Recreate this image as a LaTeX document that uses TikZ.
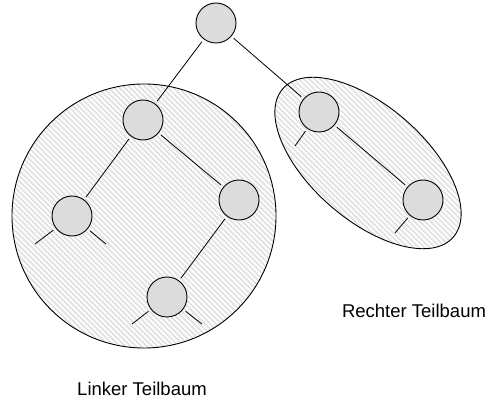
\documentclass[tikz,border=0pt]{standalone}
\usepackage{fontspec}
\setmainfont{Liberation Sans}
\usepackage{tikz}
\usetikzlibrary{shapes.geometric,patterns.meta}
\usepackage{xcolor}
\definecolor{knotengray}{RGB}{220,220,220}
\definecolor{hatchgray}{RGB}{226,226,226}
\tikzstyle{knoten} = [circle, minimum size=40pt, inner sep=0pt, draw=black, fill=knotengray, line width=0.9pt]
\tikzstyle{kante} = [line width=0.8pt, shorten <=3pt, shorten >=3pt]
\tikzstyle{stummel} = [line width=0.8pt, shorten <=3pt]
\tikzstyle{teilbaum} = [draw=black, line width=0.9pt, inner sep=0pt, preaction={fill=hatchgray}, pattern={Lines[angle=-45,distance=3.8pt,line width=1.8pt]}, pattern color=white]
\tikzstyle{beschriftung} = [font=\fontsize{18.5}{22}\selectfont, inner sep=0pt]

\begin{document}
\begin{tikzpicture}[x=1pt, y=-1pt]
\useasboundingbox (0,0) rectangle (491,401);

% Teilbaeume als Huellen
\node (links) [teilbaum, circle, minimum size=264pt] at (144,216) {};
\node (rechts) [teilbaum, ellipse, minimum width=226pt, minimum height=114pt, rotate=-41] at (368,163) {};

% Knoten
\node (wurzel) [knoten] at (216,23) {};
\node (a) [knoten] at (143,120) {};
\node (b) [knoten] at (72,216) {};
\node (c) [knoten] at (239,200) {};
\node (d) [knoten] at (167,297) {};
\node (r1) [knoten] at (319,112) {};
\node (r2) [knoten] at (423,200) {};

% Kanten
\draw[kante] (wurzel) -- (a);
\draw[kante] (wurzel) -- (r1);
\draw[kante] (a) -- (b);
\draw[kante] (a) -- (c);
\draw[kante] (c) -- (d);
\draw[kante] (r1) -- (r2);

% offene Enden
\coordinate (bl) at (35,244);
\coordinate (br) at (106,244);
\coordinate (dl) at (132,324);
\coordinate (dr) at (202,324);
\coordinate (r1l) at (295,146);
\coordinate (r2l) at (395,233);
\draw[stummel] (b) -- (bl);
\draw[stummel] (b) -- (br);
\draw[stummel] (d) -- (dl);
\draw[stummel] (d) -- (dr);
\draw[stummel] (r1) -- (r1l);
\draw[stummel] (r2) -- (r2l);

% Beschriftung
\node (linker) [beschriftung] at (142,389) {Linker Teilbaum};
\node (rechter) [beschriftung] at (414,311) {Rechter Teilbaum};
\end{tikzpicture}
\end{document}
